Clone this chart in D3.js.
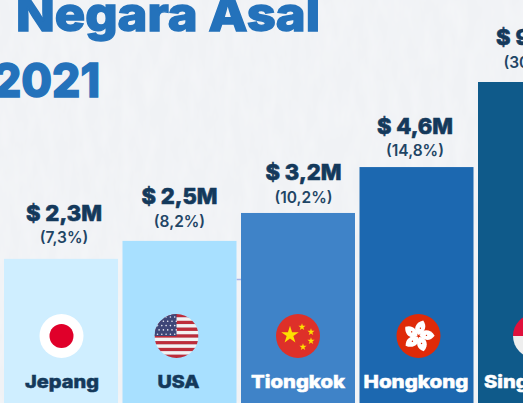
<!DOCTYPE html>
<html><head><meta charset="utf-8">
<script src="https://cdn.jsdelivr.net/npm/d3@7/dist/d3.min.js"></script>
<style>html,body{margin:0;padding:0;background:#f1f3f6;overflow:hidden}svg{display:block}text{font-family:Inter,"Open Sans",sans-serif}</style>
</head><body><div id="c"></div>
<script>
const categories = ["Jepang","USA","Tiongkok","Hongkong","Singapura"];
const valueLabels = ["$ 2,3M","$ 2,5M","$ 3,2M","$ 4,6M","$ 9,6M"];
const shareLabels = ["(7,3%)","(8,2%)","(10,2%)","(14,8%)","(30,6%)"];
// drawn bar height relative to the tallest bar (the infographic is not to scale)
const barLevels = [0.449,0.505,0.592,0.735,1];
const barColors = ["#cfeeff","#a8e0ff","#3f83c8","#1c68b0","#0f5a8a"];
const titleLines = ["Negara Asal","2021"];

const W=523,H=403;
const svg=d3.select("#c").append("svg").attr("width",W).attr("height",H);
const defs=svg.append("defs");
const f=defs.append("filter").attr("id","paper").attr("x",0).attr("y",0).attr("width","100%").attr("height","100%");
f.append("feTurbulence").attr("type","fractalNoise").attr("baseFrequency","0.09 0.03").attr("numOctaves",3).attr("seed",4);
f.append("feColorMatrix").attr("values","0 0 0 0 1  0 0 0 0 1  0 0 0 0 1  0 0 0 0.45 -0.15");
svg.append("rect").attr("width",W).attr("height",H).attr("fill","#f0f2f5");
svg.append("rect").attr("width",W).attr("height",H).attr("filter","url(#paper)");

const x=d3.scaleBand().domain(categories).range([4,592]).paddingInner(0.038);
const y=d3.scaleLinear().domain([0,1]).range([H,82]);

// faint rule, only visible in the gap between USA and Tiongkok
svg.append("line").attr("x1",x("USA")+x.bandwidth()).attr("x2",x("Tiongkok")).attr("y1",279.5).attr("y2",279.5).attr("stroke","#a9b4ea").attr("stroke-width",1.5);

svg.selectAll("rect.bar").data(categories).join("rect").attr("class","bar")
  .attr("x",d=>x(d)).attr("width",x.bandwidth())
  .attr("y",(d,i)=>y(barLevels[i])).attr("height",(d,i)=>H-y(barLevels[i]))
  .attr("fill",(d,i)=>barColors[i]);

// title
const tStyle=[{x:16,y:31,len:304},{x:-7,y:97,len:107}];
svg.selectAll("text.title").data(titleLines).join("text").attr("class","title")
  .attr("x",(d,i)=>tStyle[i].x).attr("y",(d,i)=>tStyle[i].y)
  .attr("textLength",(d,i)=>tStyle[i].len).attr("lengthAdjust","spacingAndGlyphs")
  .attr("font-size",47).attr("font-weight",800).attr("fill","#2472bb")
  .attr("stroke","#2472bb").attr("stroke-width",1.4).text(d=>d);

// labels
const nudge=[3,0,5.5,-1.5,-1];
const valRaise=[38,37,32.5,33,37], pctRaise=[16,14,10,11,14];
const cx=(d)=>x(d)+x.bandwidth()/2;
svg.selectAll("text.val").data(categories).join("text").attr("class","val")
  .attr("x",(d,i)=>cx(d)+nudge[i]).attr("y",(d,i)=>y(barLevels[i])-valRaise[i])
  .attr("text-anchor","middle").attr("font-size",21.5).attr("font-weight",800).attr("fill","#14395b")
  .attr("stroke","#14395b").attr("stroke-width",0.6)
  .attr("textLength",76).attr("lengthAdjust","spacingAndGlyphs").text((d,i)=>valueLabels[i]);
svg.selectAll("text.pct").data(categories).join("text").attr("class","pct")
  .attr("x",(d,i)=>cx(d)+nudge[i]).attr("y",(d,i)=>y(barLevels[i])-pctRaise[i])
  .attr("text-anchor","middle").attr("font-size",15.5).attr("font-weight",600).attr("fill","#1f4565")
  .text((d,i)=>shareLabels[i]);
const nameFill=["#14395b","#14395b","#fff","#fff","#fff"];
const nameLen=[74,42,94,105,102];
svg.selectAll("text.name").data(categories).join("text").attr("class","name")
  .attr("x",(d,i)=>cx(d)+[1,-1,0,-0.5,0][i]).attr("y",387.5)
  .attr("text-anchor","middle").attr("font-size",18).attr("font-weight",800).attr("fill",(d,i)=>nameFill[i])
  .attr("stroke",(d,i)=>nameFill[i]).attr("stroke-width",0.5)
  .attr("textLength",(d,i)=>nameLen[i]).attr("lengthAdjust","spacingAndGlyphs").text(d=>d);

// flags
const R=22, FY=336;
const fx=[0.5,-3,0,2,0];
const flags=svg.selectAll("g.flag").data(categories).join("g").attr("class","flag")
  .attr("transform",(d,i)=>`translate(${cx(d)+fx[i]},${FY})`);
defs.append("clipPath").attr("id","disc").append("circle").attr("r",R);
const star=s=>d3.symbol().type(d3.symbolStar).size(s)();

// Japan
const jp=d3.select(flags.nodes()[0]);
jp.append("circle").attr("r",R).attr("fill","#fff");
jp.append("circle").attr("r",12).attr("fill","#e0002a");

// USA
const us=d3.select(flags.nodes()[1]).append("g").attr("clip-path","url(#disc)");
const stripeY=d3.scaleBand().domain(d3.range(13)).range([-R,R]);
us.selectAll("rect").data(d3.range(13)).join("rect")
  .attr("x",-R).attr("width",2*R).attr("y",d=>stripeY(d)).attr("height",stripeY.bandwidth()+0.2)
  .attr("fill",d=>d%2?"#f4f2f2":"#bd2c3a");
us.append("rect").attr("x",-R).attr("y",-R).attr("width",R).attr("height",R).attr("fill","#3e4677");
d3.range(5).forEach(r=>d3.range(5).forEach(c=>{
  us.append("circle").attr("cx",-R+3+c*4.3+(r%2)*1.6).attr("cy",-R+3+r*4.3).attr("r",0.8).attr("fill","#e8e8f2");
}));

// China
const cn=d3.select(flags.nodes()[2]);
cn.append("circle").attr("r",R).attr("fill","#de3029");
cn.append("path").attr("d",star(95)).attr("transform","translate(-8,-1)").attr("fill","#fde000");
[[4,-9],[13,-4],[13,5],[5,11]].forEach(p=>cn.append("path").attr("d",star(16)).attr("transform",`translate(${p})`).attr("fill","#fde000"));

// Hong Kong
const hk=d3.select(flags.nodes()[3]);
hk.append("circle").attr("r",R).attr("fill","#df2a08");
d3.range(5).forEach(i=>{
  const g=hk.append("g").attr("transform",`rotate(${i*72+10})`);
  g.append("path").attr("d","M0,-1 C-7,-4 -6,-13 2,-16 C7,-11 6,-5 0,-1Z").attr("fill","#fff");
  g.append("circle").attr("cx",0.5).attr("cy",-8).attr("r",0.7).attr("fill","#df2a08");
});

// Singapore
const sg=d3.select(flags.nodes()[4]).append("g").attr("clip-path","url(#disc)");
sg.append("rect").attr("x",-R).attr("y",-R).attr("width",2*R).attr("height",R).attr("fill","#e0103c");
sg.append("rect").attr("x",-R).attr("y",0).attr("width",2*R).attr("height",R).attr("fill","#eeeeee");
</script></body></html>
